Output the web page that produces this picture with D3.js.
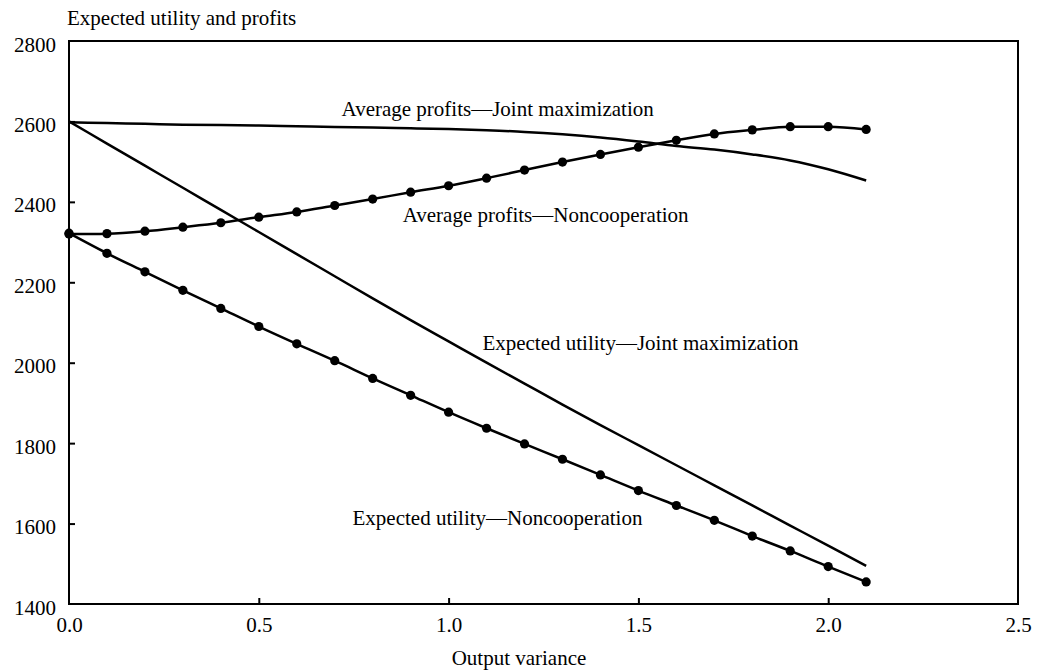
<!DOCTYPE html>
<html>
<head>
<meta charset="utf-8">
<script src="https://cdn.jsdelivr.net/npm/d3@7"></script>
<style>
  html, body { margin: 0; padding: 0; background: #fff; }
  svg text { font-family: "Liberation Serif", "Times New Roman", serif; fill: #000; }
</style>
</head>
<body>
<svg id="chart" width="1047" height="671"></svg>
<script>
// Output variance grid (x values of every series)
const variance = [0.0, 0.1, 0.2, 0.3, 0.4, 0.5, 0.6, 0.7, 0.8, 0.9, 1.0,
                  1.1, 1.2, 1.3, 1.4, 1.5, 1.6, 1.7, 1.8, 1.9, 2.0, 2.1];

// Average profits under joint maximization (plain curve)
const profitsJoint = [2598, 2596, 2594, 2592, 2591, 2590, 2588, 2586, 2585, 2583, 2581,
                      2578, 2574, 2568, 2560, 2550, 2539, 2530, 2518, 2503, 2481, 2453];

// Average profits under noncooperation (dotted curve)
const profitsNoncoop = [2320, 2321, 2327, 2337, 2348, 2362, 2375, 2391, 2407, 2424, 2440,
                        2459, 2479, 2499, 2518, 2536, 2553, 2569, 2579, 2587, 2587, 2580];

// Expected utility under joint maximization (plain curve)
const utilityJoint = [2600, 2545, 2490, 2435, 2380, 2325, 2270, 2215, 2160, 2106, 2053,
                      2000, 1948, 1896, 1845, 1795, 1745, 1695, 1645, 1595, 1545, 1495];

// Expected utility under noncooperation (dotted curve)
const utilityNoncoop = [2322, 2272, 2226, 2180, 2135, 2090, 2047, 2005, 1961, 1919, 1877,
                        1837, 1798, 1760, 1721, 1682, 1645, 1608, 1569, 1532, 1493, 1455];

// Axis ticks
const xTicks = [0.0, 0.5, 1.0, 1.5, 2.0, 2.5];
const yTicks = [1400, 1600, 1800, 2000, 2200, 2400, 2600, 2800];

// Curve labels: text and anchor point in data units
const labelText = ["Average profits\u2014Joint maximization",
                   "Average profits\u2014Noncooperation",
                   "Expected utility\u2014Joint maximization",
                   "Expected utility\u2014Noncooperation"];
const labelX = [0.718, 0.879, 1.089, 0.747];
const labelY = [2614, 2351, 2031, 1597];

const svg = d3.select("#chart");
const plotLeft = 69, plotRight = 1018, plotTop = 41, plotBottom = 604;

const x = d3.scaleLinear().domain([0, 2.5]).range([plotLeft, plotRight]);
const y = d3.scaleLinear().domain([1400, 2800]).range([plotBottom, plotTop]);

const fontSize = 21;

// Frame
svg.append("rect")
  .attr("x", plotLeft).attr("y", plotTop)
  .attr("width", plotRight - plotLeft).attr("height", plotBottom - plotTop)
  .attr("fill", "none").attr("stroke", "#000").attr("stroke-width", 2);

// Axes with inward ticks
const xAxis = d3.axisBottom(x).tickValues(xTicks).tickFormat(d3.format(".1f"))
  .tickSizeInner(-6).tickSizeOuter(0).tickPadding(13);
const gx = svg.append("g").attr("transform", `translate(0,${plotBottom})`).call(xAxis);
gx.select(".domain").remove();
gx.selectAll(".tick line").attr("stroke", "#000").attr("stroke-width", 2);
gx.selectAll(".tick text").style("font-size", fontSize + "px");

const yAxis = d3.axisLeft(y).tickValues(yTicks).tickFormat(d3.format("d"))
  .tickSizeInner(-6).tickSizeOuter(0).tickPadding(13);
const gy = svg.append("g").attr("transform", `translate(${plotLeft},0)`).call(yAxis);
gy.select(".domain").remove();
gy.selectAll(".tick line").attr("stroke", "#000").attr("stroke-width", 2);
gy.selectAll(".tick text").style("font-size", fontSize + "px")
  .attr("dy", "0.48em");
gy.selectAll(".tick").filter(d => d === 1400 || d === 2800).select("line").remove();
gx.selectAll(".tick").filter(d => d === 0 || d === 2.5).select("line").remove();

// Axis titles
svg.append("text")
  .attr("x", 67).attr("y", 25)
  .style("font-size", fontSize + "px")
  .text("Expected utility and profits");

svg.append("text")
  .attr("x", 519).attr("y", 665)
  .attr("text-anchor", "middle")
  .style("font-size", fontSize + "px")
  .text("Output variance");

// Series
const line = d3.line()
  .x((d, i) => x(variance[i]))
  .y(d => y(d))
  .curve(d3.curveMonotoneX);

const series = [
  { values: profitsJoint, dots: false },
  { values: utilityJoint, dots: false },
  { values: profitsNoncoop, dots: true },
  { values: utilityNoncoop, dots: true }
];

series.forEach(s => {
  svg.append("path")
    .datum(s.values)
    .attr("d", line)
    .attr("fill", "none")
    .attr("stroke", "#000")
    .attr("stroke-width", 2.5)
    .attr("stroke-linejoin", "round");
  if (s.dots) {
    svg.append("g").selectAll("circle")
      .data(s.values)
      .join("circle")
      .attr("cx", (d, i) => x(variance[i]))
      .attr("cy", d => y(d))
      .attr("r", 4.6)
      .attr("fill", "#000");
  }
});

// Curve labels
svg.append("g").selectAll("text")
  .data(labelText)
  .join("text")
  .attr("x", (d, i) => x(labelX[i]))
  .attr("y", (d, i) => y(labelY[i]))
  .style("font-size", fontSize + "px")
  .text(d => d);
</script>
</body>
</html>
